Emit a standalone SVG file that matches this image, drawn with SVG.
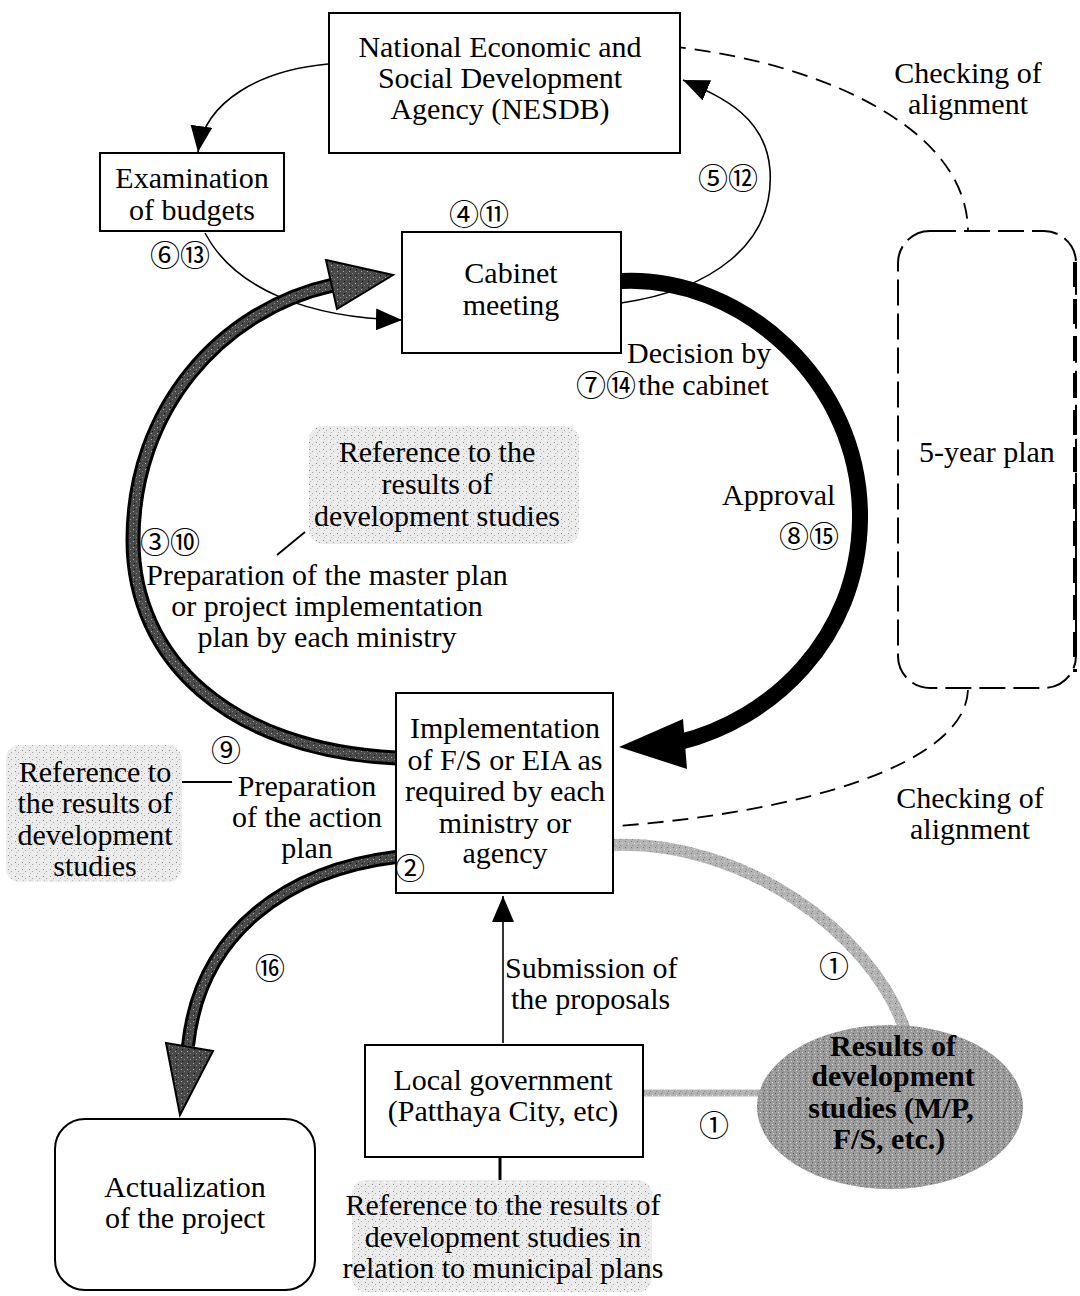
<svg xmlns="http://www.w3.org/2000/svg" width="1080" height="1296" viewBox="0 0 1080 1296">
<style>
text{font-family:"Liberation Serif","Times New Roman",serif;font-size:30px;fill:#000}
.c{text-anchor:middle}
.num{font-family:"Noto Sans CJK JP","DejaVu Sans",sans-serif;font-size:30px;text-anchor:middle}
.box{fill:#fff;stroke:#000;stroke-width:2}
.thin{fill:none;stroke:#000;stroke-width:1.6}
.dash{fill:none;stroke:#000;stroke-width:1.8;stroke-dasharray:16 9}
.ref{fill:url(#stipL);stroke:none}
</style>
<defs>
<pattern id="stipL" width="7" height="7" patternUnits="userSpaceOnUse">
<rect width="7" height="7" fill="#ebebeb"/>
<rect x="1" y="1" width="1" height="1" fill="#8c8c8c"/>
<rect x="4" y="3" width="1" height="1" fill="#a8a8a8"/>
<rect x="2" y="5" width="1" height="1" fill="#bdbdbd"/>
<rect x="6" y="6" width="1" height="1" fill="#ffffff"/>
</pattern>
<pattern id="stipD" width="6" height="6" patternUnits="userSpaceOnUse">
<rect width="6" height="6" fill="#9a9a9a"/>
<rect x="1" y="1" width="1" height="1" fill="#555"/>
<rect x="4" y="2" width="1" height="1" fill="#d8d8d8"/>
<rect x="2" y="4" width="1" height="1" fill="#666"/>
<rect x="5" y="5" width="1" height="1" fill="#cfcfcf"/>
</pattern>
<pattern id="stipA" width="6" height="6" patternUnits="userSpaceOnUse">
<rect width="6" height="6" fill="#4a4a4a"/>
<rect x="1" y="1" width="1" height="1" fill="#aaa"/>
<rect x="4" y="3" width="1" height="1" fill="#888"/>
<rect x="2" y="5" width="1" height="1" fill="#111"/>
</pattern>
<pattern id="stipG" width="6" height="6" patternUnits="userSpaceOnUse">
<rect width="6" height="6" fill="#b4b4b4"/>
<rect x="1" y="1" width="1" height="1" fill="#777"/>
<rect x="4" y="3" width="1" height="1" fill="#e0e0e0"/>
<rect x="2" y="5" width="1" height="1" fill="#888"/>
</pattern>
<marker id="ah" markerUnits="userSpaceOnUse" markerWidth="28" markerHeight="22" refX="26" refY="11" orient="auto">
<path d="M0,0 L26,11 L0,22 z" fill="#000"/>
</marker>
</defs>

<g id="connectors">
<path class="dash" d="M645,44 C 800,55 966,120 968,230"/>
<path class="dash" d="M968,690 C 965,765 800,812 618,826"/>
<path class="thin" d="M328,64 C 262,70 205,100 198,152" marker-end="url(#ah)"/>
<path class="thin" d="M205,233 C 235,290 310,318 402,320" marker-end="url(#ah)"/>
<path class="thin" d="M621,303 C 710,290 775,245 770,170 C 766,118 725,98 683,80" marker-end="url(#ah)"/>
<path class="thin" d="M503,1043 L503,896" marker-end="url(#ah)" stroke-width="2.2"/>
<path d="M621,281 C 740,275 862,380 860,520 C 858,640 770,720 680,742" fill="none" stroke="#000" stroke-width="16"/>
<polygon points="619,747 683,719 687,769" fill="#000"/>
<path d="M396,758 C 230,750 133,660 133,540 C 133,410 220,310 333,285" fill="none" stroke="#000" stroke-width="15"/>
<path d="M396,758 C 230,750 133,660 133,540 C 133,410 220,310 333,285" fill="none" stroke="url(#stipA)" stroke-width="9"/>
<polygon points="326,260 393,275 337,309" fill="url(#stipA)" stroke="#000" stroke-width="2"/>
<path d="M396,857 C 290,870 200,930 188,1046" fill="none" stroke="#000" stroke-width="14"/>
<path d="M396,857 C 290,870 200,930 188,1046" fill="none" stroke="url(#stipA)" stroke-width="8"/>
<polygon points="166,1043 213,1051 180,1115" fill="url(#stipA)" stroke="#000" stroke-width="2"/>
<path d="M614,845 C 740,840 870,930 905,1030" fill="none" stroke="url(#stipG)" stroke-width="12"/>
<line x1="643" y1="1093" x2="762" y2="1093" stroke="url(#stipG)" stroke-width="7"/>
<line x1="305" y1="532" x2="277" y2="555" stroke="#000" stroke-width="1.8"/>
<line x1="181" y1="782" x2="232" y2="782" stroke="#000" stroke-width="1.8"/>
<line x1="500" y1="1157" x2="500" y2="1196" stroke="#000" stroke-width="3"/>
</g>

<g id="nesdb">
<rect class="box" x="329" y="13" width="351" height="140"/>
<text class="c" x="500" y="57">National Economic and</text>
<text class="c" x="500" y="88">Social Development</text>
<text class="c" x="500" y="119">Agency (NESDB)</text>
</g>

<g id="examination">
<rect class="box" x="100" y="153" width="184" height="78"/>
<text class="c" x="192" y="188">Examination</text>
<text class="c" x="192" y="220">of budgets</text>
</g>

<g id="cabinet">
<rect class="box" x="402" y="232" width="219" height="121"/>
<text class="c" x="511" y="283">Cabinet</text>
<text class="c" x="511" y="315">meeting</text>
</g>

<g id="implementation">
<rect class="box" x="396" y="693" width="217" height="200"/>
<text class="c" x="505" y="738">Implementation</text>
<text class="c" x="505" y="770">of F/S or EIA as</text>
<text class="c" x="505" y="801">required by each</text>
<text class="c" x="505" y="833">ministry or</text>
<text class="c" x="505" y="863">agency</text>
</g>

<g id="local-government">
<rect class="box" x="365" y="1045" width="278" height="112"/>
<text class="c" x="503" y="1090">Local government</text>
<text class="c" x="503" y="1121">(Patthaya City, etc)</text>
</g>

<g id="actualization">
<rect class="box" x="55" y="1119" width="260" height="171" rx="30"/>
<text class="c" x="185" y="1197">Actualization</text>
<text class="c" x="185" y="1228">of the project</text>
</g>

<g id="five-year-plan">
<rect x="898" y="231" width="178" height="457" rx="32" fill="none" stroke="#000" stroke-width="2" stroke-dasharray="26 8"/>
<line x1="1075" y1="262" x2="1075" y2="672" stroke="#000" stroke-width="4" stroke-dasharray="25 12"/>
<text class="c" x="987" y="462">5-year plan</text>
</g>

<g id="results">
<ellipse cx="890" cy="1107" rx="133" ry="82" fill="url(#stipD)"/>
<text class="c" x="893" y="1056" font-weight="bold" font-size="27">Results of</text>
<text class="c" x="893" y="1086" font-weight="bold" font-size="27">development</text>
<text class="c" x="891" y="1118" font-weight="bold" font-size="27">studies (M/P,</text>
<text class="c" x="889" y="1149" font-weight="bold" font-size="27">F/S, etc.)</text>
</g>

<g id="ref-mid">
<rect class="ref" x="309" y="426" width="270" height="118" rx="14"/>
<text class="c" x="437" y="462">Reference to the</text>
<text class="c" x="437" y="494">results of</text>
<text class="c" x="437" y="526">development studies</text>
</g>

<g id="ref-left">
<rect class="ref" x="6" y="745" width="176" height="137" rx="14"/>
<text class="c" x="95" y="782">Reference to</text>
<text class="c" x="95" y="813">the results of</text>
<text class="c" x="95" y="845">development</text>
<text class="c" x="95" y="876">studies</text>
</g>

<g id="ref-bottom">
<rect class="ref" x="352" y="1180" width="300" height="112" rx="14"/>
<text class="c" x="503" y="1215" font-size="27">Reference to the results of</text>
<text class="c" x="503" y="1247" font-size="27">development studies in</text>
<text class="c" x="503" y="1278" font-size="27">relation to municipal plans</text>
</g>

<g id="labels">
<text class="c" x="968" y="83">Checking of</text>
<text class="c" x="968" y="114">alignment</text>
<text class="c" x="970" y="808">Checking of</text>
<text class="c" x="970" y="839">alignment</text>
<text x="627" y="363">Decision by</text>
<text x="638" y="395">the cabinet</text>
<text x="722" y="505">Approval</text>
<text class="c" x="327" y="585">Preparation of the master plan</text>
<text class="c" x="327" y="616">or project implementation</text>
<text class="c" x="327" y="647">plan by each ministry</text>
<text class="c" x="307" y="796">Preparation</text>
<text class="c" x="307" y="827">of the action</text>
<text class="c" x="307" y="858">plan</text>
<text x="505" y="978">Submission of</text>
<text x="511" y="1009">the proposals</text>
</g>

<g id="step-numbers">
<text class="num" x="180" y="266">⑥⑬</text>
<text class="num" x="479" y="225">④⑪</text>
<text class="num" x="728" y="189">⑤⑫</text>
<text class="num" x="606" y="396">⑦⑭</text>
<text class="num" x="809" y="547">⑧⑮</text>
<text class="num" x="170" y="553">③⑩</text>
<text class="num" x="226" y="761">⑨</text>
<text class="num" x="410" y="879">②</text>
<text class="num" x="270" y="979">⑯</text>
<text class="num" x="834" y="977">①</text>
<text class="num" x="714" y="1136">①</text>
</g>
</svg>
